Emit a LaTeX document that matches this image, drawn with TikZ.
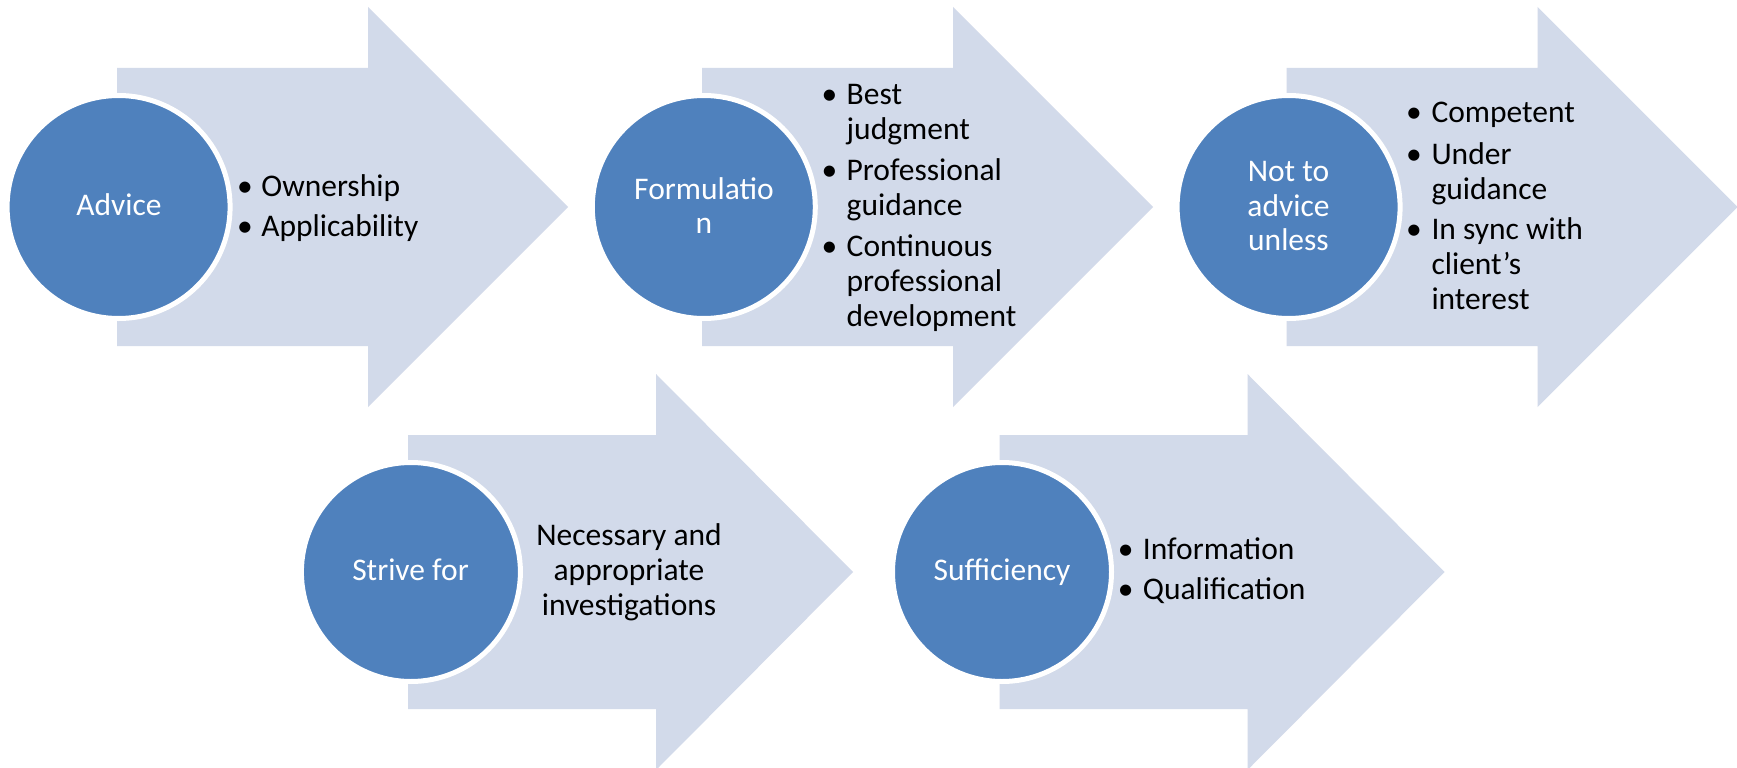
\documentclass[tikz,border=0pt]{standalone}
\usepackage{fontspec}
\setmainfont{Carlito}
\definecolor{arrowfill}{RGB}{210,218,234}
\definecolor{circblue}{RGB}{79,129,189}
\newcommand\bigarrow[6]{% x0, xbase, xtip, cy, shaft half, head half
  \fill[arrowfill] (#1,#4-#5) -- (#2,#4-#5) -- (#2,#4-#6) -- (#3,#4) -- (#2,#4+#6) -- (#2,#4+#5) -- (#1,#4+#5) -- cycle;}
\newcommand\tline[4]{\node[txt,anchor=base west] (#1) at (#2,#3) {#4};}
\newcommand\tbul[3]{\node[txt,anchor=base] (#1) at (#2,#3) {•};}
\newcommand\tmid[4]{\node[txt,anchor=base] (#1) at (#2,#3) {#4};}
\newcommand\cmid[4]{\node[ctxt,anchor=base] (#1) at (#2,#3) {#4};}
\begin{document}
\begin{tikzpicture}[x=1pt,y=-1pt,
  txt/.style={inner sep=0pt,outer sep=0pt,font=\fontsize{31.5}{35}\selectfont,text=black},
  ctxt/.style={txt,text=white},
  circ/.style={circle,fill=circblue,draw=white,line width=5pt,inner sep=0pt}]
\useasboundingbox (0,0) rectangle (1737,768);
\fill[white] (0,0) rectangle (1737,768);
\begin{scope}
\clip (0,0) rectangle (1737,768);
% row 1 arrows
\bigarrow{117}{368}{568}{207}{139}{200}
\bigarrow{702}{953}{1153}{207}{139}{200}
\bigarrow{1286.5}{1537.5}{1737.5}{207}{139}{200}
% row 2 arrows
\bigarrow{408}{656}{853}{572}{137}{198}
\bigarrow{999.5}{1247.5}{1444.5}{572}{137}{198}
\end{scope}
% circles
\node[circ,minimum size=223] (c1) at (118.6,207) {};
\node[circ,minimum size=223] (c2) at (703.8,207) {};
\node[circ,minimum size=223] (c3) at (1288.6,207) {};
\node[circ,minimum size=219] (c4) at (410.9,572) {};
\node[circ,minimum size=219] (c5) at (1002,572) {};
% circle texts
\cmid{c1t}{119}{215}{Advice}
\cmid{c2ta}{704}{199.3}{Formulatio}
\cmid{c2tb}{704}{233.3}{n}
\cmid{c3ta}{1288.5}{181}{Not to}
\cmid{c3tb}{1288.5}{216}{advice}
\cmid{c3tc}{1288.5}{250.7}{unless}
\cmid{c4t}{410.5}{580}{Strive for}
\cmid{c5t}{1002}{580}{Sufficiency}
% arrow 1 text
\tbul{b1a}{245}{196}
\tline{t1a}{261.4}{196}{Ownership}
\tbul{b1b}{245}{236}
\tline{t1b}{261.4}{236}{Applicability}
% arrow 2 text
\tbul{b2a}{829.5}{104.3}
\tline{t2a}{846.7}{104.3}{Best}
\tline{t2b}{846.7}{139.3}{judgment}
\tbul{b2c}{829.5}{180}
\tline{t2c}{846.7}{180}{Professional}
\tline{t2d}{846.7}{215}{guidance}
\tbul{b2e}{829.5}{256}
\tline{t2e}{846.7}{256}{Continuous}
\tline{t2f}{846.7}{291}{professional}
\tline{t2g}{846.7}{326}{development}
% arrow 3 text
\tbul{b3a}{1414}{122.7}
\tline{t3a}{1431.5}{122.7}{Competent}
\tbul{b3b}{1414}{164}
\tline{t3b}{1431.5}{164}{Under}
\tline{t3c}{1431.5}{199}{guidance}
\tbul{b3d}{1414}{239}
\tline{t3d}{1431.5}{239}{In sync with}
\tline{t3e}{1431.5}{274}{client’s}
\tline{t3f}{1431.5}{309}{interest}
% arrow 4 text
\tmid{t4a}{629}{545.7}{Necessary and}
\tmid{t4b}{629}{580.7}{appropriate}
\tmid{t4c}{629}{615.7}{investigations}
% arrow 5 text
\tbul{b5a}{1125.6}{559.3}
\tline{t5a}{1142.9}{559.3}{Information}
\tbul{b5b}{1125.6}{599.3}
\tline{t5b}{1142.9}{599.3}{Qualification}
\end{tikzpicture}
\end{document}
